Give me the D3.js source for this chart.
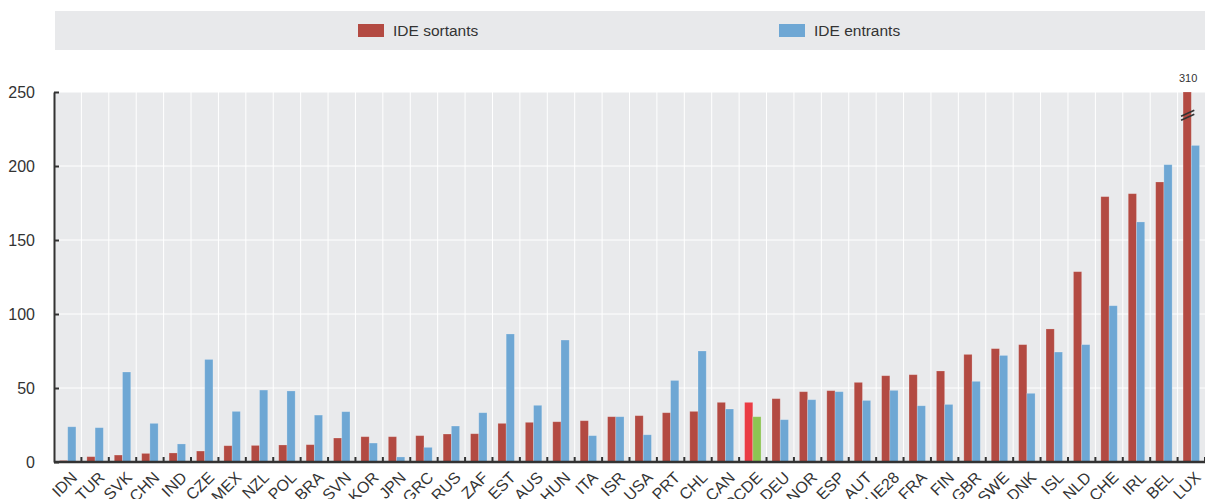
<!DOCTYPE html>
<head>
    <meta charset="utf-8">
    <title>IDE</title>
    <script type="text/javascript" src="https://d3js.org/d3.v7.min.js"></script>
    <style>
        body { margin: 0; background: #fff; }
        text { font-family: "Liberation Sans", Arial, sans-serif; fill: #333; }
    </style>
</head>
<body>
<div id="container"></div>
<script>
    //-----------------------------DATA------------------------------//
    const countries = ["IDN","TUR","SVK","CHN","IND","CZE","MEX","NZL","POL","BRA","SVN","KOR","JPN",
        "GRC","RUS","ZAF","EST","AUS","HUN","ITA","ISR","USA","PRT","CHL","CAN","OCDE","DEU","NOR",
        "ESP","AUT","UE28","FRA","FIN","GBR","SWE","DNK","ISL","NLD","CHE","IRL","BEL","LUX"];
    const sortants = [1, 3.6, 4.7, 5.8, 6.1, 7.4, 11, 11.2, 11.5, 11.7, 16.2, 17.1, 17.1,
        17.8, 18.9, 19.1, 26.1, 26.8, 27.2, 27.9, 30.6, 31.3, 33.3, 34.2, 40.3, 40.3, 42.8, 47.5,
        48.2, 53.8, 58.3, 59, 61.5, 72.7, 76.6, 79.3, 89.9, 128.6, 179.3, 181.3, 189.2, 310];
    const entrants = [23.8, 23.2, 60.8, 26.1, 12.2, 69.3, 34.2, 48.6, 48, 31.7, 34, 12.8, 3.4,
        9.9, 24.3, 33.3, 86.5, 38.3, 82.4, 17.8, 30.6, 18.4, 55.1, 75, 35.8, 30.6, 28.6, 42.1,
        47.5, 41.6, 48.4, 38, 38.9, 54.5, 72, 46.4, 74.3, 79.3, 105.6, 162.2, 200.9, 213.9];
    const yTicks = [0, 50, 100, 150, 200, 250];
    const seriesNames = ["IDE sortants", "IDE entrants"];

    //-----------------------------SVG-------------------------------//
    const width = 1205;
    const height = 499;
    const pLeft = 54, pRight = 1205, pTop = 92, pBottom = 462;

    const colRed = "#b34a42";
    const colBlue = "#6ea7d4";
    const colHiRed = "#ea3c44";
    const colHiGreen = "#8dc453";

    const svg = d3.select("div#container").append("svg")
        .attr("width", width)
        .attr("height", height);

    //----------------------------SCALES-----------------------------//
    const x0 = d3.scaleBand().domain(countries).range([pLeft, pRight]).padding(0);
    const bw = x0.bandwidth();
    const x1 = d3.scaleBand().domain(["s", "e"]).range([bw * 0.2, bw * 0.8]).padding(0);
    const yScale = d3.scaleLinear().domain([0, 250]).range([pBottom, pTop]);

    //----------------------------LEGEND-----------------------------//
    svg.append("rect")
        .attr("x", 55).attr("y", 11)
        .attr("width", 1150).attr("height", 39)
        .attr("fill", "#e8e9eb");

    const legendX = [358, 779];
    const legendCol = [colRed, colBlue];
    seriesNames.forEach(function(name, i) {
        svg.append("rect")
            .attr("x", legendX[i]).attr("y", 24)
            .attr("width", 26).attr("height", 13)
            .attr("fill", legendCol[i]);
        svg.append("text")
            .attr("x", legendX[i] + 35).attr("y", 36)
            .style("font-size", "15.5px")
            .text(name);
    });

    //--------------------------BACKGROUND---------------------------//
    svg.append("rect")
        .attr("x", pLeft).attr("y", pTop)
        .attr("width", pRight - pLeft).attr("height", pBottom - pTop)
        .attr("fill", "#e9eaec");

    // vertical grid at band edges
    svg.append("g")
        .selectAll("line")
        .data(countries.slice(1))
        .enter()
        .append("line")
        .attr("x1", d => x0(d)).attr("x2", d => x0(d))
        .attr("y1", pTop).attr("y2", pBottom)
        .attr("stroke", "#fff").attr("stroke-width", 1);

    // horizontal grid
    svg.append("g")
        .selectAll("line")
        .data(yTicks.slice(1))
        .enter()
        .append("line")
        .attr("x1", pLeft).attr("x2", pRight)
        .attr("y1", d => yScale(d)).attr("y2", d => yScale(d))
        .attr("stroke", "#fff").attr("stroke-width", 1);

    //----------------------------BARS-------------------------------//
    const rows = countries.map(function(c, i) {
        return { id: c, s: sortants[i], e: entrants[i] };
    });

    const groups = svg.selectAll("g.grp")
        .data(rows)
        .enter()
        .append("g")
        .attr("class", "grp")
        .attr("transform", d => "translate(" + x0(d.id) + ",0)");

    groups.append("rect")
        .attr("x", x1("s"))
        .attr("width", x1.bandwidth())
        .attr("y", d => yScale(Math.min(d.s, 250)))
        .attr("height", d => pBottom - yScale(Math.min(d.s, 250)))
        .attr("fill", d => d.id === "OCDE" ? colHiRed : colRed)
        .attr("stroke", "rgba(255,255,255,0.25)")
        .attr("stroke-width", 0.8);

    groups.append("rect")
        .attr("x", x1("e"))
        .attr("width", x1.bandwidth())
        .attr("y", d => yScale(d.e))
        .attr("height", d => pBottom - yScale(d.e))
        .attr("fill", d => d.id === "OCDE" ? colHiGreen : colBlue)
        .attr("stroke", "rgba(255,255,255,0.25)")
        .attr("stroke-width", 0.8);

    // truncated bar: break marks + value label
    const cut = rows.filter(d => d.s > 250);
    cut.forEach(function(d) {
        const bx = x0(d.id) + x1("s");
        const by = yScale(233);
        [0, -4].forEach(function(off) {
            svg.append("line")
                .attr("x1", bx - 2).attr("y1", by + off + 3)
                .attr("x2", bx + x1.bandwidth() + 3).attr("y2", by + off - 3)
                .attr("stroke", "#333").attr("stroke-width", 1.6);
        });
        svg.append("text")
            .attr("x", bx + x1.bandwidth() / 2 + 1)
            .attr("y", 82)
            .attr("text-anchor", "middle")
            .style("font-size", "11px")
            .text(d.s);
    });

    //-----------------------------AXES------------------------------//
    const yaxis = d3.axisLeft(yScale).tickValues(yTicks).tickSizeInner(-5).tickSizeOuter(0).tickPadding(19);
    const gy = svg.append("g")
        .attr("transform", "translate(" + pLeft + ",0)")
        .call(yaxis);
    gy.select(".domain").attr("stroke", "#333").attr("stroke-width", 2);
    gy.selectAll(".tick line").attr("stroke", "#333").attr("stroke-width", 2);
    gy.selectAll(".tick text").style("font-size", "16px").attr("fill", "#333")
        .style("font-family", "'Liberation Sans', Arial, sans-serif");

    // x axis line + ticks at band edges
    svg.append("line")
        .attr("x1", pLeft).attr("x2", pRight)
        .attr("y1", pBottom).attr("y2", pBottom)
        .attr("stroke", "#333").attr("stroke-width", 2.5);

    svg.append("g")
        .selectAll("line")
        .data(countries)
        .enter()
        .append("line")
        .attr("x1", d => x0(d) + bw).attr("x2", d => x0(d) + bw)
        .attr("y1", pBottom).attr("y2", pBottom - 5)
        .attr("stroke", "#333").attr("stroke-width", 2);

    svg.append("g")
        .selectAll("text")
        .data(countries)
        .enter()
        .append("text")
        .attr("transform", d => "translate(" + (x0(d) + bw / 2 + 2) + "," + (pBottom + 8) + ") rotate(-45)")
        .attr("text-anchor", "end")
        .attr("dy", "0.75em")
        .style("font-size", "16px")
        .text(d => d);
</script>
</body>
